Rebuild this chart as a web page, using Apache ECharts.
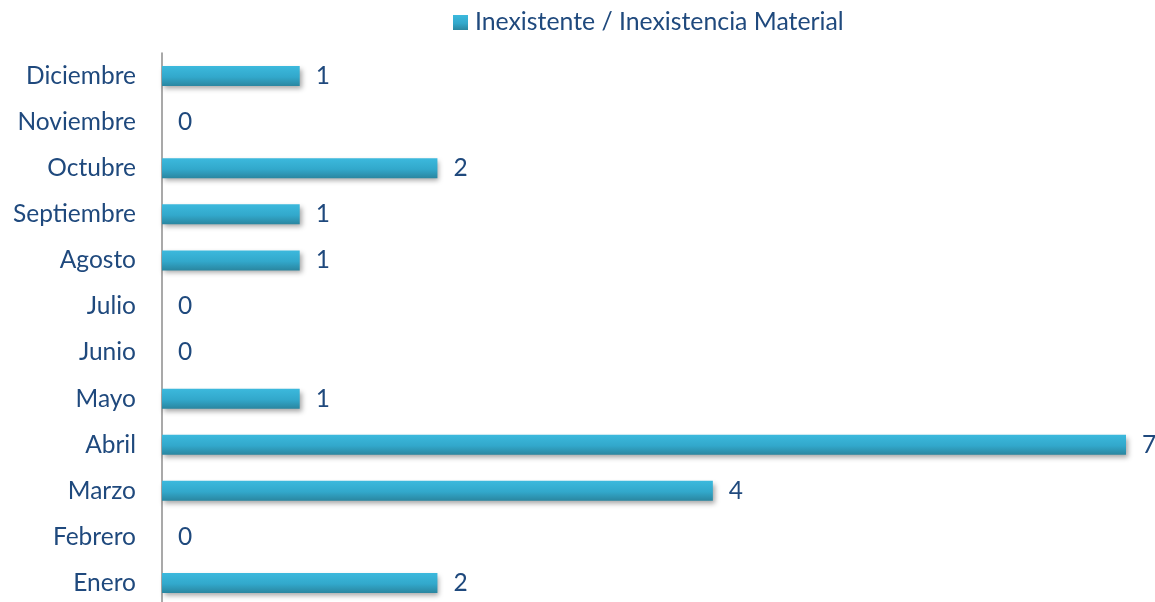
<!DOCTYPE html>
<html><head><meta charset="utf-8">
<script src="https://cdn.jsdelivr.net/npm/echarts@6/dist/echarts.min.js"></script>
<style>html,body{margin:0;padding:0;background:#fff;overflow:hidden}#c{width:1155px;height:620px}</style>
</head><body><div id="c"></div>
<script>
const categories = ['Enero','Febrero','Marzo','Abril','Mayo','Junio','Julio','Agosto','Septiembre','Octubre','Noviembre','Diciembre'];
const values = [2,0,4,7,1,0,0,1,1,2,0,1];
const seriesName = 'Inexistente / Inexistencia Material';

const FONT = 'Lato';
const TXT = '#1f497d';
const grad = new echarts.graphic.LinearGradient(0,0,0,1,[
  {offset:0,color:'#3cb9dd'},{offset:0.55,color:'#32a8cb'},{offset:1,color:'#2a86a0'}]);
const chart = echarts.init(document.getElementById('c'));
chart.setOption({
  animation:false,
  legend:{top:5,left:448,itemWidth:15,itemHeight:15,itemGap:6,icon:'rect',
    textStyle:{fontFamily:FONT,fontSize:24.8,color:TXT,padding:[0,0,0,2]},data:[seriesName]},
  grid:{left:162,top:53,width:964,height:553,containLabel:false},
  xAxis:{type:'value',min:0,max:7,show:false},
  yAxis:{type:'category',data:categories,
    axisLine:{lineStyle:{color:'#8c8c8c',width:1.5}},
    axisTick:{show:false},
    axisLabel:{fontFamily:FONT,fontSize:24.5,color:TXT,margin:26}},
  series:[{name:seriesName,type:'bar',data:values,barWidth:20,
    itemStyle:{color:grad,shadowColor:'rgba(0,0,0,0.35)',shadowBlur:5,shadowOffsetX:2,shadowOffsetY:3},
    label:{show:true,position:'right',distance:16,fontFamily:FONT,fontSize:24.5,color:TXT}}]
});
</script></body></html>
